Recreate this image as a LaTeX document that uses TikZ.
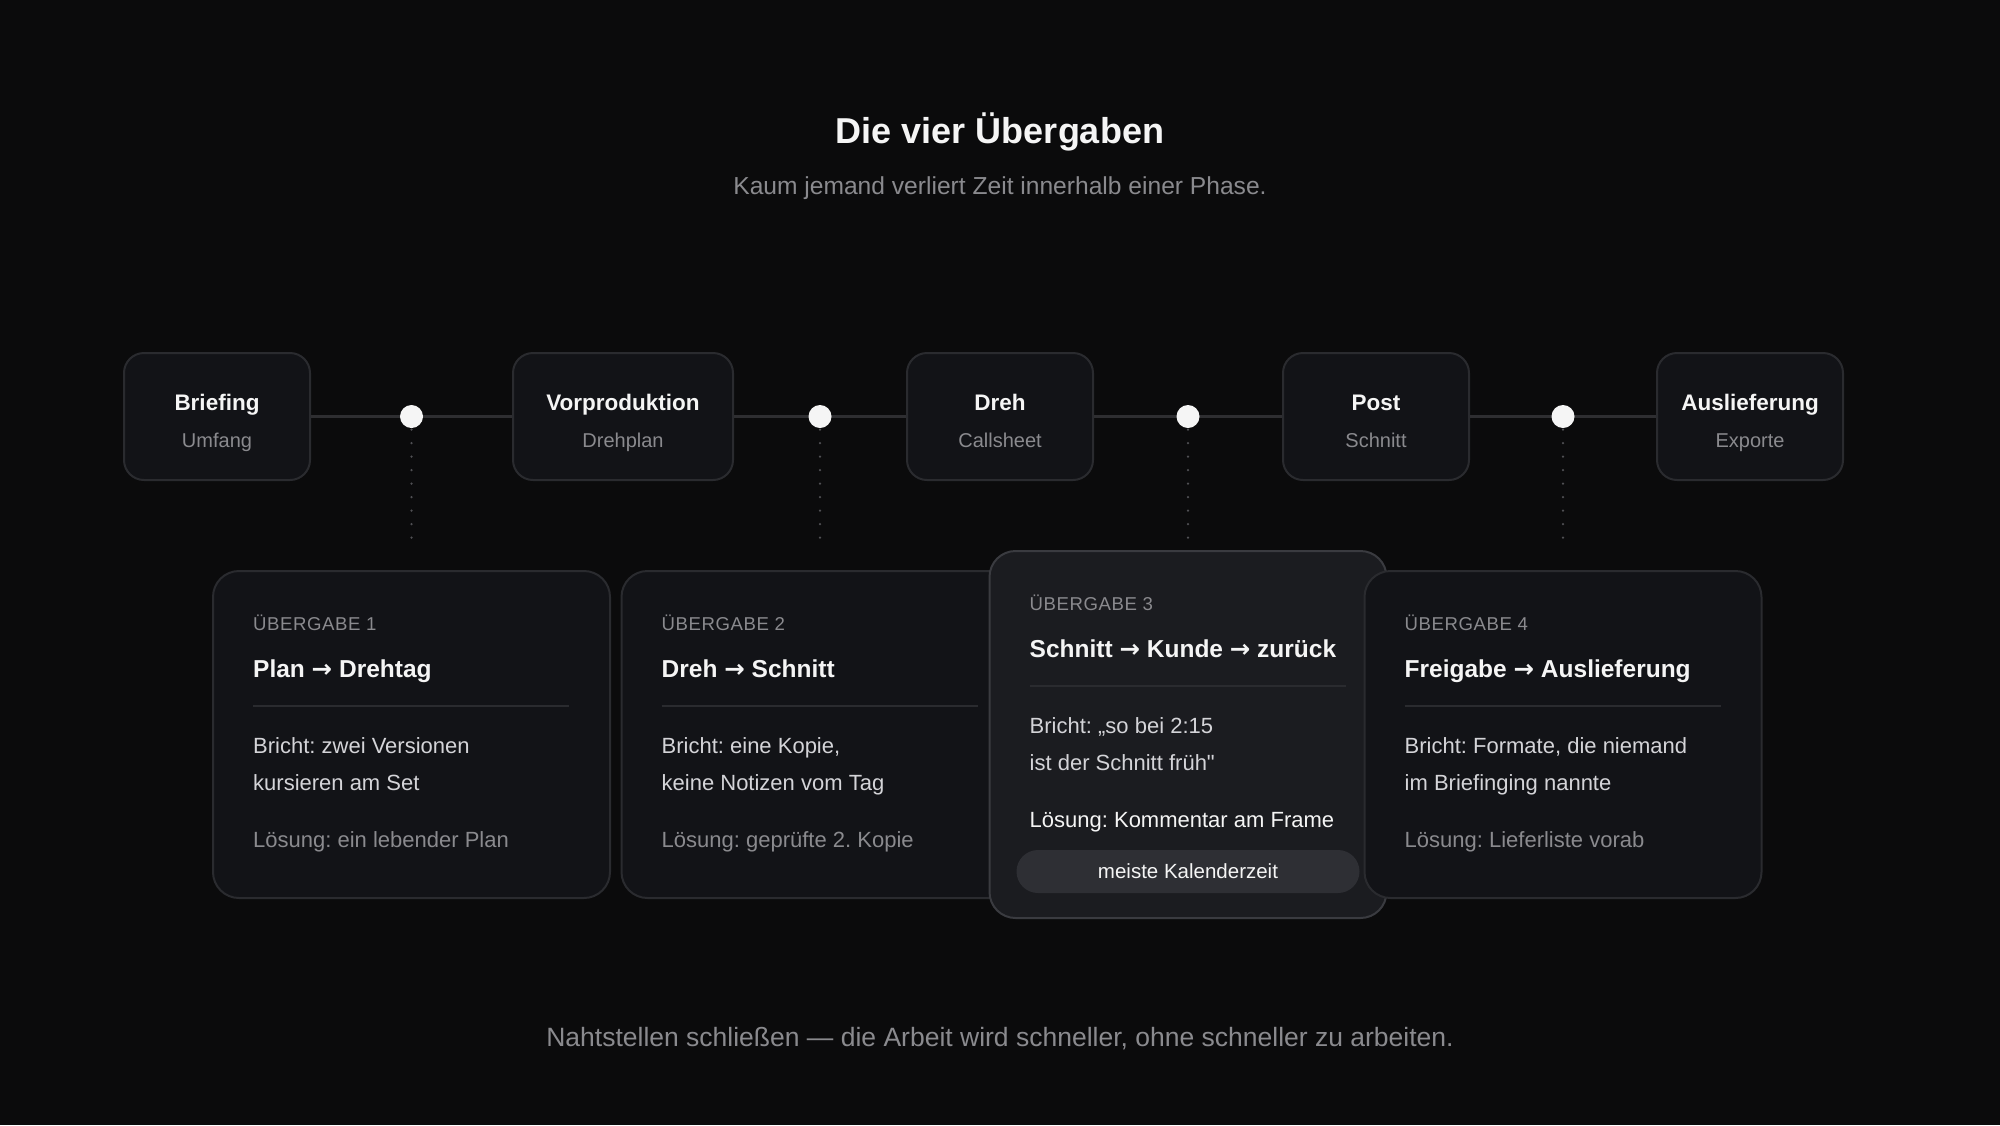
\documentclass[tikz,border=0pt]{standalone}
\usepackage{fontspec}
\setmainfont{Liberation Sans}
\newfontfamily\arrowfont{DejaVu Sans}
\newfontfamily\capsfont[LetterSpace=3]{Liberation Sans}
\usetikzlibrary{positioning,calc}
\frenchspacing
\definecolor{bg}{RGB}{11,11,12}
\definecolor{boxfill}{RGB}{18,19,23}
\definecolor{boxedge}{RGB}{42,43,47}
\definecolor{hotfill}{RGB}{27,28,32}
\definecolor{hotedge}{RGB}{58,59,64}
\definecolor{pillfill}{RGB}{46,47,52}
\definecolor{trackline}{RGB}{46,46,49}
\definecolor{leaderdot}{RGB}{80,80,84}
\definecolor{muted}{RGB}{138,138,142}
\definecolor{bodytext}{RGB}{212,212,216}
\definecolor{bright}{RGB}{245,245,245}
\newcommand{\ra}{{\arrowfont →}}
\newcommand{\dquote}{\XeTeXglyph\XeTeXcharglyph"22\relax}
\tikzset{x=1pt, y=-1pt,
         every node/.style={inner sep=0pt},
         phasebox/.style={draw=boxedge, fill=boxfill, line width=2pt,
           rounded corners=20pt, minimum width=186pt, minimum height=127pt},
         phasename/.style={anchor=base, text=bright,
           font=\bfseries\fontsize{22.5}{27}\selectfont},
         phasesub/.style={anchor=base, text=muted, font=\fontsize{20}{24}\selectfont},
         handoff/.style={circle, fill=bright, minimum size=23pt},
         trackpath/.style={draw=trackline, line width=2.5pt},
         leader/.style={draw=leaderdot, line width=2.5pt, line cap=round,
           dash pattern=on 0pt off 13.5pt, dash phase=12pt},
         card/.style={draw=boxedge, fill=boxfill, line width=2pt, anchor=north,
           rounded corners=26pt, minimum width=397pt, minimum height=327pt},
         hotcard/.style={card, draw=hotedge, fill=hotfill, minimum height=367pt},
         kicker/.style={anchor=base west, text=muted,
           font=\capsfont\fontsize{18.6}{22}\selectfont},
         cardtitle/.style={anchor=base west, text=bright,
           font=\bfseries\fontsize{24.5}{29}\selectfont},
         brokeline/.style={anchor=base west, text=bodytext,
           font=\fontsize{22}{26}\selectfont},
         solution/.style={anchor=base west, text=muted,
           font=\fontsize{22}{26}\selectfont},
         rule/.style={draw=boxedge, line width=2pt},
         pill/.style={fill=pillfill, rounded corners=21.5pt, minimum width=343pt,
           minimum height=43pt, text=bright, text height=14.7pt, text depth=0pt,
           font=\fontsize{20.5}{24}\selectfont}}

\begin{document}
\begin{tikzpicture}
  \fill[bg] (0,0) rectangle (2000,1125);
  \useasboundingbox (0,0) rectangle (2000,1125);

  \node[anchor=base, text=bright, font=\bfseries\fontsize{36}{43}\selectfont]
    (head) at (1000,143) {Die vier Übergaben};
  \node[anchor=base, text=muted, font=\fontsize{24.6}{30}\selectfont]
    (lead) at (1000,194) {Kaum jemand verliert Zeit innerhalb einer Phase.};

  \node[phasebox] (brief) at (217,416.5) {};
  \node[phasebox, minimum width=220pt] (vorp) at (623,416.5) {};
  \node[phasebox] (dreh) at (1000,416.5) {};
  \node[phasebox] (post) at (1376,416.5) {};
  \node[phasebox] (ausl) at (1750,416.5) {};

  \node[phasename] (brief-n) at ($(brief)+(0,-6.5)$) {Briefing};
  \node[phasesub]  (brief-s) at ($(brief)+(0,30.5)$) {Umfang};
  \node[phasename] (vorp-n) at ($(vorp)+(0,-6.5)$) {Vorproduktion};
  \node[phasesub]  (vorp-s) at ($(vorp)+(0,30.5)$) {Drehplan};
  \node[phasename] (dreh-n) at ($(dreh)+(0,-6.5)$) {Dreh};
  \node[phasesub]  (dreh-s) at ($(dreh)+(0,30.5)$) {Callsheet};
  \node[phasename] (post-n) at ($(post)+(0,-6.5)$) {Post};
  \node[phasesub]  (post-s) at ($(post)+(0,30.5)$) {Schnitt};
  \node[phasename] (ausl-n) at ($(ausl)+(0,-6.5)$) {Auslieferung};
  \node[phasesub]  (ausl-s) at ($(ausl)+(0,30.5)$) {Exporte};

  \path[trackpath] (brief) -- (vorp);
  \path[trackpath] (vorp) -- (dreh);
  \path[trackpath] (dreh) -- (post);
  \path[trackpath] (post) -- (ausl);

  \node[handoff] (h1) at ($(brief.east)!0.5!(vorp.west)$) {};
  \node[handoff] (h2) at ($(vorp.east)!0.5!(dreh.west)$) {};
  \node[handoff] (h3) at ($(dreh.east)!0.5!(post.west)$) {};
  \node[handoff] (h4) at ($(post.east)!0.5!(ausl.west)$) {};

  \coordinate (leadend) at (0,539);
  \coordinate (cardrow) at (0,570);
  \coordinate (hotrow) at (0,550);
  \path[leader] (h1.south) -- (h1 |- leadend);
  \path[leader] (h2.south) -- (h2 |- leadend);
  \path[leader] (h3.south) -- (h3 |- leadend);
  \path[leader] (h4.south) -- (h4 |- leadend);

  \node[card] (c1) at (h1 |- cardrow) {};
  \node[kicker] (c1-k) at ($(c1.north west)+(41,60)$) {ÜBERGABE 1};
  \node[cardtitle] (c1-t) at ($(c1.north west)+(41,107)$) {Plan \ra\ Drehtag};
  \path[rule] ($(c1.north west)+(41,136)$) -- ($(c1.north west)+(357,136)$);
  \node[brokeline] (c1-b1) at ($(c1.north west)+(41,183)$) {Bricht: zwei Versionen};
  \node[brokeline] (c1-b2) at ($(c1.north west)+(41,220)$) {kursieren am Set};
  \node[solution] (c1-l) at ($(c1.north west)+(41,277)$) {Lösung: ein lebender Plan};

  \node[card] (c2) at (h2 |- cardrow) {};
  \node[kicker] (c2-k) at ($(c2.north west)+(41,60)$) {ÜBERGABE 2};
  \node[cardtitle] (c2-t) at ($(c2.north west)+(41,107)$) {Dreh \ra\ Schnitt};
  \path[rule] ($(c2.north west)+(41,136)$) -- ($(c2.north west)+(357,136)$);
  \node[brokeline] (c2-b1) at ($(c2.north west)+(41,183)$) {Bricht: eine Kopie,};
  \node[brokeline] (c2-b2) at ($(c2.north west)+(41,220)$) {keine Notizen vom Tag};
  \node[solution] (c2-l) at ($(c2.north west)+(41,277)$) {Lösung: geprüfte 2. Kopie};

  \node[hotcard] (c3) at (h3 |- hotrow) {};
  \node[kicker] (c3-k) at ($(c3.north west)+(41,60)$) {ÜBERGABE 3};
  \node[cardtitle] (c3-t) at ($(c3.north west)+(41,107)$) {Schnitt \ra\ Kunde \ra\ zurück};
  \path[rule] ($(c3.north west)+(41,136)$) -- ($(c3.north west)+(357,136)$);
  \node[brokeline] (c3-b1) at ($(c3.north west)+(41,183)$) {Bricht: „so bei 2:15};
  \node[brokeline] (c3-b2) at ($(c3.north west)+(41,220)$) {ist der Schnitt früh\dquote};
  \node[solution, text=bright] (c3-l) at ($(c3.north west)+(41,277)$) {Lösung: Kommentar am Frame};
  \node[pill] (c3-tag) at ($(c3.north)+(0,321.5)$) {meiste Kalenderzeit};

  \node[card] (c4) at (h4 |- cardrow) {};
  \node[kicker] (c4-k) at ($(c4.north west)+(41,60)$) {ÜBERGABE 4};
  \node[cardtitle] (c4-t) at ($(c4.north west)+(41,107)$) {Freigabe \ra\ Auslieferung};
  \path[rule] ($(c4.north west)+(41,136)$) -- ($(c4.north west)+(357,136)$);
  \node[brokeline] (c4-b1) at ($(c4.north west)+(41,183)$) {Bricht: Formate, die niemand};
  \node[brokeline] (c4-b2) at ($(c4.north west)+(41,220)$) {im Briefinging nannte};
  \node[solution] (c4-l) at ($(c4.north west)+(41,277)$) {Lösung: Lieferliste vorab};

  \node[anchor=base, text=muted, font=\fontsize{26.5}{32}\selectfont] (foot) at (1000,1046)
    {Nahtstellen schließen — die Arbeit wird schneller, ohne schneller zu arbeiten.};
\end{tikzpicture}
\end{document}
